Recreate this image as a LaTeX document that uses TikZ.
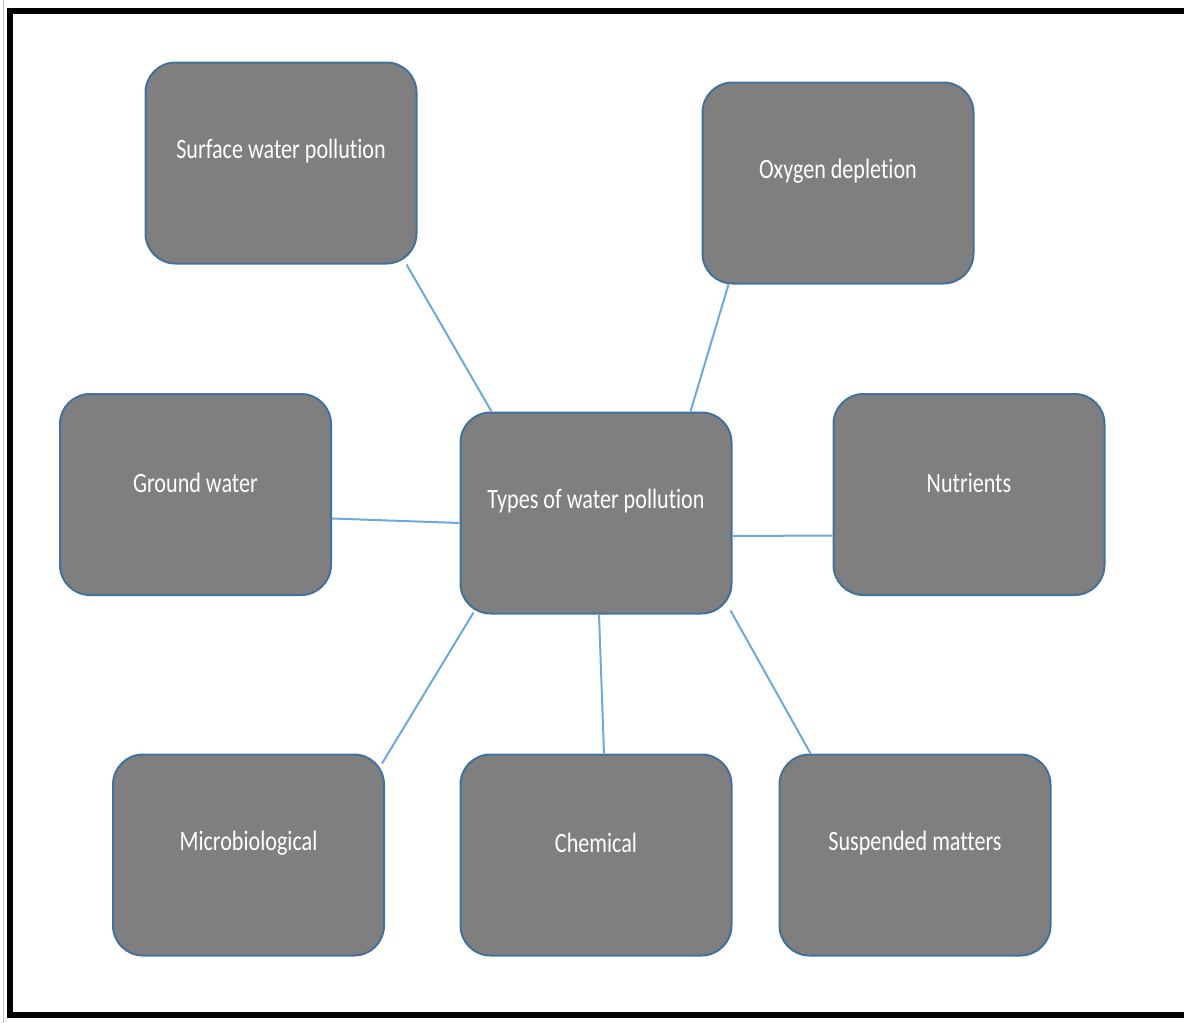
\documentclass[tikz,border=0pt]{standalone}
\usepackage{fontspec}
\setmainfont{Carlito}[FakeStretch=0.79, Ligatures={NoCommon}]
\usetikzlibrary{calc}
\definecolor{boxgray}{HTML}{7F7F7F}
\definecolor{boxedge}{HTML}{41719C}
\definecolor{linkblue}{HTML}{6FA8DC}

\tikzset{
    pollbox/.style={draw=boxedge, line width=2, fill=boxgray, rounded corners=30,
        minimum width=271, minimum height=201, inner sep=0},
    polltext/.style={text=white, font=\fontsize{28}{34}\selectfont},
    link/.style={draw=linkblue, line width=2},
}

\begin{document}
\begin{tikzpicture}[x=1pt, y=-1pt]

    \useasboundingbox (0,0) rectangle (1184,1023);

    % frame
    \draw[black!25, line width=1] (3,0) -- (3,1023);
    \draw[line width=6] (9.5,11) rectangle (1200,1015);

    % boxes
    \node[pollbox] (surf) at (281,163) {};
    \node[pollbox] (oxy) at (838,183) {};
    \node[pollbox] (ground) at (195.5,494.5) {};
    \node[pollbox] (types) at (596,513) {};
    \node[pollbox] (nutr) at (969,494.5) {};
    \node[pollbox] (micro) at (248.5,855) {};
    \node[pollbox] (chem) at (596,855) {};
    \node[pollbox] (susp) at (915,855) {};

    % labels, set a bit above the middle of each box
    \node[polltext] (surf-t) at ($(surf.center)+(0,-12)$) {Surface water pollution};
    \node[polltext] (oxy-t) at ($(oxy.center)+(0,-12)$) {Oxygen depletion};
    \node[polltext] (ground-t) at ($(ground.center)+(0,-12)$) {Ground water};
    \node[polltext] (types-t) at ($(types.center)+(0,-12)$) {Types of water pollution};
    \node[polltext] (nutr-t) at ($(nutr.center)+(0,-12)$) {Nutrients};
    \node[polltext] (micro-t) at ($(micro.center)+(0,-12)$) {Microbiological};
    \node[polltext] (chem-t) at ($(chem.center)+(0,-12)$) {Chemical};
    \node[polltext] (susp-t) at ($(susp.center)+(0,-12)$) {Suspended matters};

    % links to the middle box
    \draw[link] ($(surf.south east)+(-11,0)$) -- ($(types.north west)+(32,0)$); % surface
    \draw[link] ($(oxy.south west)+(27,0)$) -- ($(types.north east)+(-42,0)$); % oxygen
    \draw[link] ($(ground.east)+(0,24)$) -- ($(types.west)+(0,10)$); % ground
    \draw[link] ($(types.east)+(0,23)$) -- ($(nutr.west)+(0,41)$); % nutrients
    \draw[link] ($(micro.north east)+(-3,10)$) -- ($(types.south west)+(14,-2)$); % microbiological
    \draw[link] ($(types.south)+(3,0)$) -- ($(chem.north)+(8,0)$); % chemical
    \draw[link] ($(types.south east)+(-2,-4)$) -- ($(susp.north west)+(32,0)$); % suspended

\end{tikzpicture}
\end{document}
